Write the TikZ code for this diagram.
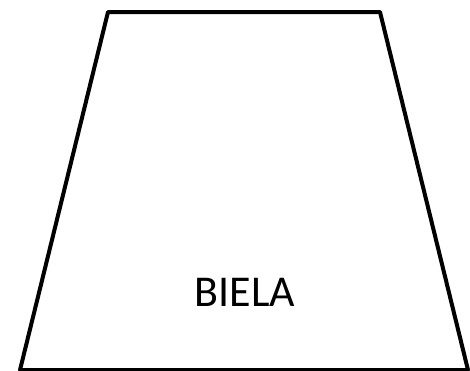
\documentclass[tikz,border=0pt]{standalone}
\usepackage{fontspec}
\setmainfont{Carlito}
\usepackage{xcolor}
\definecolor{fink}{HTML}{000000}

\begin{document}
\begin{tikzpicture}[x=1pt, y=-1pt]
\useasboundingbox (0,0) rectangle (470,370);
% ---- link body: a trapezoid, wide at the base ----
\draw[line width=4pt, line join=round, fink]
  (108,12) -- (380,12) -- (468,370) -- (20,370) -- cycle;
% ---- label ----
\node[font=\fontsize{44}{52}\selectfont, fink] (biela) at (245,292) {BIELA};
\end{tikzpicture}
\end{document}
